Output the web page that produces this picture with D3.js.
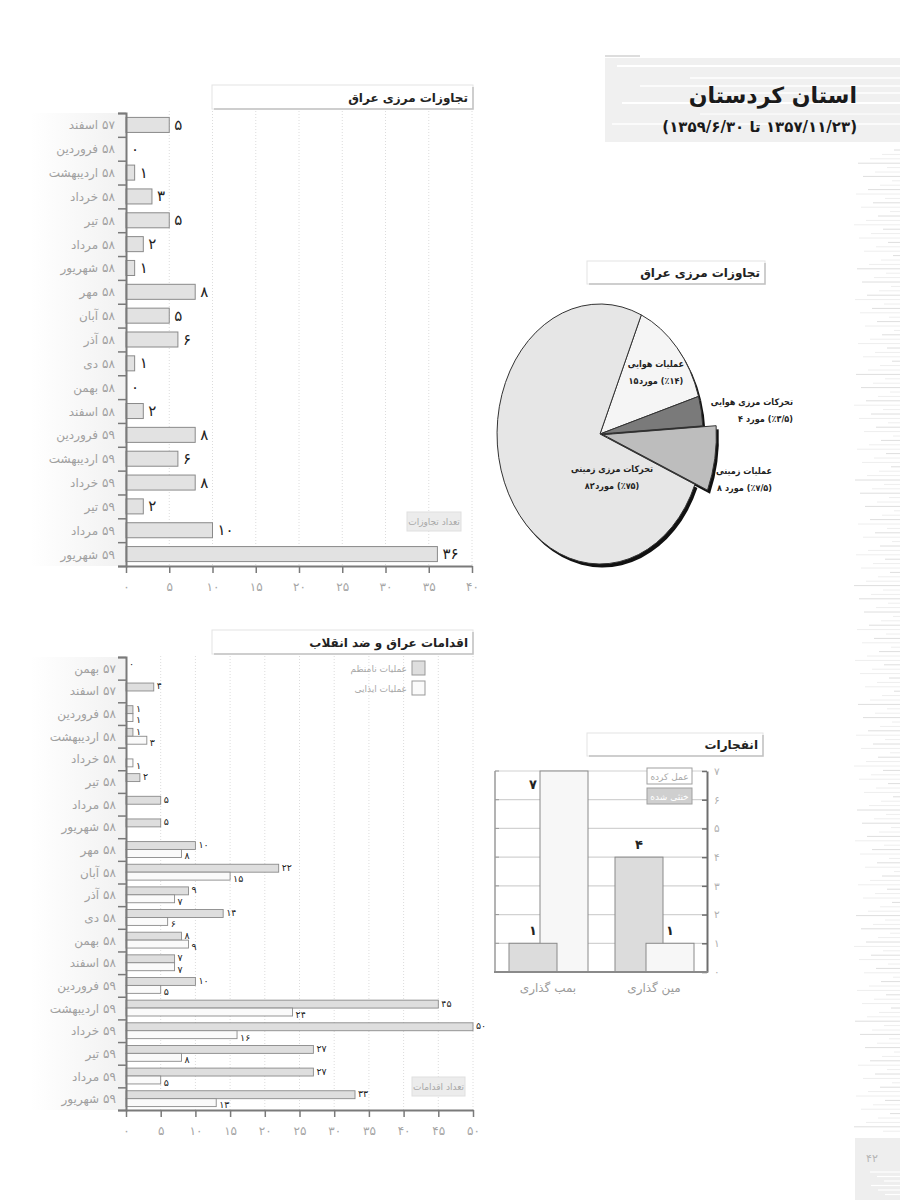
<!DOCTYPE html>
<html>
<head>
<meta charset="utf-8">
<script src="https://cdn.jsdelivr.net/npm/d3@7"></script>
<style>
  body { margin: 0; background: #fff; }
  svg { font-family: "DejaVu Sans", sans-serif; display: block; }
</style>
</head>
<body>
<div id="chart"></div>
<script>
// ---- datos ----
const monthsBorder = ["اسفند ۵۷", "فروردین ۵۸", "اردیبهشت ۵۸", "خرداد ۵۸", "تیر ۵۸", "مرداد ۵۸", "شهریور ۵۸",
  "مهر ۵۸", "آبان ۵۸", "آذر ۵۸", "دی ۵۸", "بهمن ۵۸", "اسفند ۵۸", "فروردین ۵۹", "اردیبهشت ۵۹",
  "خرداد ۵۹", "تیر ۵۹", "مرداد ۵۹", "شهریور ۵۹"]
const borderCounts = [5, 0, 1, 3, 5, 2, 1, 8, 5, 6, 1, 0, 2, 8, 6, 8, 2, 10, 36]

const monthsActions = ["بهمن ۵۷", "اسفند ۵۷", "فروردین ۵۸", "اردیبهشت ۵۸", "خرداد ۵۸", "تیر ۵۸", "مرداد ۵۸",
  "شهریور ۵۸", "مهر ۵۸", "آبان ۵۸", "آذر ۵۸", "دی ۵۸", "بهمن ۵۸", "اسفند ۵۸", "فروردین ۵۹",
  "اردیبهشت ۵۹", "خرداد ۵۹", "تیر ۵۹", "مرداد ۵۹", "شهریور ۵۹"]
const actionSeries = ["عملیات نامنظم", "عملیات ایذایی"]
const irregularOps = [0, 4, 1, 1, null, 2, 5, 5, 10, 22, 9, 14, 8, 7, 10, 45, 50, 27, 27, 33]
const harassOps = [null, null, 1, 3, 1, null, null, null, 8, 15, 7, 6, 9, 7, 5, 24, 16, 8, 5, 13]

const pieNames = ["عملیات هوایی", "تحرکات مرزی هوایی", "عملیات زمینی", "تحرکات مرزی زمینی"]
const pieValues = [15, 4, 8, 82]
const piePercents = ["۱۴", "۳/۵", "۷/۵", "۷۵"]

const blastTypes = ["بمب گذاری", "مین گذاری"]
const blastSeries = ["خنثی شده", "عمل کرده"]
const blastDefused = [1, 4]
const blastExploded = [7, 1]

// ---- utilidades ----
const RLM = "\u200F"
const fa = n => String(n).replace(/\d/g, d => "۰۱۲۳۴۵۶۷۸۹"[+d])

const width = 900
const height = 1200

const svg = d3.select("#chart")
  .append("svg")
  .attr("width", width)
  .attr("height", height)

// Coloca trozos de texto de izquierda a derecha, cada uno en su propio <text>,
// para que el bidi no los reordene (el original los muestra en este orden)
function inlineRow(g, x, y, parts, anchor, style) {
  const nodes = parts.map(p => {
    const t = g.append("text").attr("y", y).attr("text-anchor", "middle").text(p.t)
    style(t)
    return { t, w: t.node().getComputedTextLength(), gap: p.gap || 0 }
  })
  const total = d3.sum(nodes, n => n.w + n.gap)
  let cx = anchor === "end" ? x - total : anchor === "middle" ? x - total / 2 : x
  nodes.forEach(n => { n.t.attr("x", cx + n.w / 2); cx += n.w + n.gap })
}
const monthParts = s => { const [name, yr] = s.split(" "); return [{ t: name, gap: 4 }, { t: yr }] }

const defs = svg.append("defs")
const grad = defs.append("linearGradient").attr("id", "labelShade")
grad.append("stop").attr("offset", "0%").attr("stop-color", "#fff")
grad.append("stop").attr("offset", "100%").attr("stop-color", "#e8e8e8")

// ---- decoración de la página ----
const deco = svg.append("g")
deco.append("rect").attr("x", 605).attr("y", 58).attr("width", 295).attr("height", 84).attr("fill", "#f0f0f0")
const headStripes = [[617, 66, 2], [690, 78, 1.5], [640, 86, 1.5], [720, 93, 1.5], [622, 103, 2], [700, 114, 1], [612, 124, 1.5]]
headStripes.forEach(([x0, y0, w]) => {
  deco.append("line").attr("x1", x0).attr("x2", width).attr("y1", y0).attr("y2", y0)
    .attr("stroke", "#fff").attr("stroke-width", w)
})
deco.append("line").attr("x1", 605).attr("x2", 640).attr("y1", 56).attr("y2", 56).attr("stroke", "#ddd").attr("stroke-width", 2)

// franjas finas del margen derecho
for (let i = 0; i < 225; i++) {
  const yy = 150 + i * 4.4
  if (yy > 1135) break
  const len = 6 + ((i * 53) % 41)
  deco.append("line").attr("x1", width - len).attr("x2", width).attr("y1", yy).attr("y2", yy)
    .attr("stroke", (i % 3 === 0) ? "#dedede" : "#eeeeee").attr("stroke-width", 1)
}
deco.append("rect").attr("x", 855).attr("y", 1138).attr("width", 45).attr("height", 62).attr("fill", "#eeeeee")
for (let i = 0; i < 6; i++) {
  deco.append("line").attr("x1", 870 + (i * 7) % 20).attr("x2", width).attr("y1", 1172 + i * 4.5).attr("y2", 1172 + i * 4.5)
    .attr("stroke", "#fff").attr("stroke-width", 1.2)
}
deco.append("text").attr("x", 872).attr("y", 1162).attr("text-anchor", "middle")
  .attr("font-size", 11).attr("fill", "#b5b5b5").text(fa(42))

// título
svg.append("text").attr("x", 857).attr("y", 103).attr("text-anchor", "end")
  .attr("font-size", 22).attr("font-weight", "bold").attr("fill", "#1a1a1a").text("استان کردستان")
svg.append("text").attr("x", 857).attr("y", 132).attr("text-anchor", "end")
  .attr("font-size", 15).attr("font-weight", "bold").attr("fill", "#1a1a1a")
  .text(RLM + "(" + fa("1357/11/23") + " تا " + fa("1359/6/30") + ")" + RLM)

// caja de título de cada gráfico
function titleBox(x0, x1, y0, y1, text) {
  const g = svg.append("g")
  g.append("rect").attr("x", x0).attr("y", y0).attr("width", x1 - x0).attr("height", y1 - y0)
    .attr("fill", "#fff").attr("stroke", "#e4e4e4")
  g.append("path").attr("d", `M${x1},${y0 + 2}V${y1}H${x0 + 2}`)
    .attr("fill", "none").attr("stroke", "#c2c2c2").attr("stroke-width", 1.5)
  g.append("text").attr("x", x1 - 5).attr("y", (y0 + y1) / 2 + 4.5).attr("text-anchor", "end")
    .attr("font-size", 12).attr("font-weight", "bold").attr("fill", "#222").text(text)
}

function styleAxis(g, col) {
  g.select(".domain").attr("stroke", col).attr("stroke-width", 2)
  g.selectAll(".tick line").attr("stroke", col).attr("stroke-width", 1.5)
  g.selectAll(".tick text").attr("fill", "#a5a5a5").attr("font-size", 12).attr("font-family", "DejaVu Sans")
}
const monthStyle = t => t.attr("font-size", 12).attr("fill", "#a0a0a0")

// ---- gráfico 1: تجاوزات مرزی عراق ----
const x1 = d3.scaleLinear().domain([0, 40]).range([126, 472])
const rows1 = d3.scaleBand().domain(monthsBorder).range([113, 566])
const bars1 = rows1.copy().paddingInner(0.37).paddingOuter(0.185)

titleBox(212, 473, 85, 109, "تجاوزات مرزی عراق")

const g1 = svg.append("g")
g1.append("rect").attr("x", 30).attr("y", 113).attr("width", 96).attr("height", 453).attr("fill", "url(#labelShade)").attr("opacity", 0.6)
g1.selectAll(".grid").data(x1.ticks(8).slice(1)).join("line")
  .attr("x1", d => x1(d)).attr("x2", d => x1(d)).attr("y1", 111).attr("y2", 566)
  .attr("stroke", "#dcdcdc").attr("stroke-dasharray", "1,2")

g1.selectAll(".bar").data(monthsBorder.map((m, i) => ({ m, v: borderCounts[i] })).filter(d => d.v > 0)).join("rect")
  .attr("x", x1(0)).attr("y", d => bars1(d.m))
  .attr("width", d => x1(d.v) - x1(0)).attr("height", bars1.bandwidth())
  .attr("fill", "#e2e2e2").attr("stroke", "#8a8a8a").attr("stroke-width", 1)

g1.selectAll(".val").data(monthsBorder.map((m, i) => ({ m, v: borderCounts[i] }))).join("text")
  .attr("x", d => x1(d.v) + 5).attr("y", d => rows1(d.m) + rows1.bandwidth() / 2 + 5)
  .attr("font-size", 15).attr("fill", "#222").text(d => fa(d.v))

const labs1 = g1.append("g")
monthsBorder.forEach(m => inlineRow(labs1, 115, rows1(m) + rows1.bandwidth() / 2 + 4.5, monthParts(m), "end", monthStyle))

const yTicks1 = d3.scaleLinear().domain([0, monthsBorder.length]).range([113, 566])
const yAx1 = g1.append("g").attr("transform", "translate(126,0)")
  .call(d3.axisLeft(yTicks1).ticks(monthsBorder.length).tickSize(8).tickFormat(""))
styleAxis(yAx1, "#7a7a7a")
const xAx1 = g1.append("g").attr("transform", "translate(0,566)")
  .call(d3.axisBottom(x1).ticks(8).tickSize(7).tickSizeOuter(0).tickPadding(9).tickFormat(fa))
styleAxis(xAx1, "#7a7a7a")

g1.append("rect").attr("x", 407).attr("y", 512).attr("width", 54).attr("height", 19).attr("fill", "#ececec").attr("stroke", "#e0e0e0")
g1.append("text").attr("x", 434).attr("y", 525).attr("text-anchor", "middle").attr("font-size", 9).attr("fill", "#a8a8a8").text("تعداد تجاوزات")

// ---- gráfico 2: اقدامات عراق و ضد انقلاب ----
const x2 = d3.scaleLinear().domain([0, 50]).range([126, 473])
const rows2 = d3.scaleBand().domain(monthsActions).range([657, 1110])
const grp2 = rows2.copy().paddingInner(0.3).paddingOuter(0.15)
const sub2 = d3.scaleBand().domain(actionSeries).range([0, grp2.bandwidth()])
const fill2 = d3.scaleOrdinal().domain(actionSeries).range(["#dedede", "#fafafa"])

titleBox(212, 473, 630, 654, "اقدامات عراق و ضد انقلاب")

const g2 = svg.append("g")
g2.append("rect").attr("x", 30).attr("y", 657).attr("width", 96).attr("height", 453).attr("fill", "url(#labelShade)").attr("opacity", 0.6)
g2.selectAll(".grid").data(x2.ticks(10).slice(1)).join("line")
  .attr("x1", d => x2(d)).attr("x2", d => x2(d)).attr("y1", 656).attr("y2", 1110)
  .attr("stroke", "#dcdcdc").attr("stroke-dasharray", "1,2")

const actionData = []
monthsActions.forEach((m, i) => {
  actionData.push({ m, s: actionSeries[0], v: irregularOps[i] })
  actionData.push({ m, s: actionSeries[1], v: harassOps[i] })
})
const shown2 = actionData.filter(d => d.v !== null)

g2.selectAll(".bar").data(shown2.filter(d => d.v > 0)).join("rect")
  .attr("x", x2(0)).attr("y", d => grp2(d.m) + sub2(d.s))
  .attr("width", d => x2(d.v) - x2(0)).attr("height", sub2.bandwidth())
  .attr("fill", d => fill2(d.s)).attr("stroke", "#8a8a8a").attr("stroke-width", 0.9)

// etiquetas: la gris encima del centro de la fila, la blanca debajo
g2.selectAll(".val").data(shown2).join("text")
  .attr("x", d => x2(d.v) + 3)
  .attr("y", d => rows2(d.m) + rows2.bandwidth() / 2 + (d.s === actionSeries[0] ? -1.5 : 9.8))
  .attr("font-size", 9.5).attr("fill", "#222").text(d => fa(d.v))

const labs2 = g2.append("g")
monthsActions.forEach(m => inlineRow(labs2, 116, rows2(m) + rows2.bandwidth() / 2 + 4.5, monthParts(m), "end", monthStyle))

const yTicks2 = d3.scaleLinear().domain([0, monthsActions.length]).range([657, 1110])
const yAx2 = g2.append("g").attr("transform", "translate(126,0)")
  .call(d3.axisLeft(yTicks2).ticks(monthsActions.length).tickSize(8).tickFormat(""))
styleAxis(yAx2, "#7a7a7a")
const xAx2 = g2.append("g").attr("transform", "translate(0,1110)")
  .call(d3.axisBottom(x2).ticks(10).tickSize(7).tickSizeOuter(0).tickPadding(9).tickFormat(fa))
styleAxis(xAx2, "#7a7a7a")

// leyenda
actionSeries.forEach((s, i) => {
  g2.append("rect").attr("x", 412).attr("y", 661 + i * 20).attr("width", 13).attr("height", 14)
    .attr("fill", fill2(s)).attr("stroke", "#999")
  g2.append("text").attr("x", 407).attr("y", 672 + i * 20).attr("text-anchor", "end")
    .attr("font-size", 9).attr("fill", "#a8a8a8").text(s)
})
g2.append("rect").attr("x", 412).attr("y", 1077).attr("width", 53).attr("height", 19).attr("fill", "#ececec").attr("stroke", "#e0e0e0")
g2.append("text").attr("x", 438.5).attr("y", 1090).attr("text-anchor", "middle").attr("font-size", 9).attr("fill", "#a8a8a8").text("تعداد اقدامات")

// ---- pastel: تجاوزات مرزی عراق ----
titleBox(587, 765, 261, 284, "تجاوزات مرزی عراق")

const pieCx = 600, pieCy = 434, pieR = 130, squash = 0.792
const total = d3.sum(pieValues)
// las porciones pequeñas quedan a la derecha, como en el original
const startA = Math.PI * 0.48 - (pieValues[0] + pieValues[1]) / total * 2 * Math.PI
const pie = d3.pie().sort(null).startAngle(startA).endAngle(startA + 2 * Math.PI)
const slices = pie(pieValues)
const pieFill = ["#f5f5f5", "#7a7a7a", "#bdbdbd", "#e6e6e6"]
const arc = d3.arc().innerRadius(0).outerRadius(pieR)
const arcOut = d3.arc().innerRadius(0).outerRadius(pieR * 1.1)
const explode = 2
const explOff = d => {
  const a = (d.startAngle + d.endAngle) / 2
  return [Math.sin(a) * 4, -Math.cos(a) * 4]
}
const slicePath = (d, i) => i === explode ? arcOut(d) : arc(d)
const sliceShift = (d, i) => i === explode ? `translate(${explOff(d)[0]},${explOff(d)[1]})` : null

const shadow = svg.append("g").attr("transform", `translate(${pieCx + 2.5},${pieCy + 3.5}) scale(${squash},1)`)
shadow.selectAll("path").data(slices).join("path")
  .attr("d", slicePath).attr("transform", sliceShift).attr("fill", "#111")
const pieG = svg.append("g").attr("transform", `translate(${pieCx},${pieCy}) scale(${squash},1)`)
pieG.selectAll("path").data(slices).join("path")
  .attr("d", slicePath).attr("transform", sliceShift)
  .attr("fill", (d, i) => pieFill[i]).attr("stroke", "#333").attr("stroke-width", 1)
  .attr("vector-effect", "non-scaling-stroke")

// etiquetas del pastel
const cAir = d3.arc().innerRadius(0).outerRadius(pieR * 1.45).centroid(slices[0])
const pieLab = [
  { x: pieCx + cAir[0] * squash, y: pieCy + cAir[1] - 4, a: "middle" },
  { x: 793, y: 405, a: "end" },
  { x: 772, y: 474, a: "end" },
  { x: 612, y: 472, a: "middle" }
]
const pieStyle = t => t.attr("font-family", "DejaVu Sans Condensed, DejaVu Sans")
  .attr("font-size", 9).attr("font-weight", "bold").attr("fill", "#222")
const pieLabG = svg.append("g")
pieNames.forEach((n, i) => {
  const p = pieLab[i]
  const sep = (i === 0 || i === 3) ? 0.5 : 3
  pieStyle(pieLabG.append("text").attr("x", p.x).attr("y", p.y).attr("text-anchor", p.a).text(n))
  inlineRow(pieLabG, p.x, p.y + 17, [
    { t: fa(pieValues[i]), gap: sep },
    { t: "مورد", gap: 3 },
    { t: "(٪" + piePercents[i] + ")" }
  ], p.a, pieStyle)
})

// ---- gráfico 4: انفجارات ----
titleBox(587, 763, 733, 756, "انفجارات")

const yB = d3.scaleLinear().domain([0, 7]).range([972, 771])
const xB = d3.scaleBand().domain(blastTypes).range([495, 707])
const xSub = d3.scalePoint().domain(blastSeries).range([-39, -8])
const barW = 48
const fillB = d3.scaleOrdinal().domain(blastSeries).range(["#dcdcdc", "#f7f7f7"])

const g4 = svg.append("g")
g4.selectAll(".grid").data(yB.ticks(7).slice(1)).join("line")
  .attr("x1", 495).attr("x2", 707).attr("y1", d => yB(d)).attr("y2", d => yB(d))
  .attr("stroke", "#d2d2d2").attr("stroke-width", 1.2)
g4.append("line").attr("x1", 495).attr("x2", 495).attr("y1", 771).attr("y2", 972).attr("stroke", "#9a9a9a").attr("stroke-width", 1.5)
g4.selectAll(".lt").data(yB.ticks(7)).join("line")
  .attr("x1", 495).attr("x2", 499).attr("y1", d => yB(d)).attr("y2", d => yB(d)).attr("stroke", "#9a9a9a")

const blastData = blastTypes.map((t, i) => [
  { t, s: blastSeries[0], v: blastDefused[i] },
  { t, s: blastSeries[1], v: blastExploded[i] }
].sort((a, b) => b.v - a.v)).flat()

g4.selectAll(".bar").data(blastData).join("rect")
  .attr("x", d => xB(d.t) + xB.bandwidth() / 2 + xSub(d.s)).attr("y", d => yB(d.v))
  .attr("width", barW).attr("height", d => yB(0) - yB(d.v))
  .attr("fill", d => fillB(d.s)).attr("stroke", "#8a8a8a").attr("stroke-width", 1)

g4.selectAll(".val").data(blastData).join("text")
  .attr("x", d => {
    const bx = xB(d.t) + xB.bandwidth() / 2 + xSub(d.s)
    return d.v === yB.domain()[1] ? bx - 7 : bx + barW / 2
  })
  .attr("y", d => d.v === yB.domain()[1] ? yB(d.v) + 18 : yB(d.v) - 8)
  .attr("text-anchor", "middle").attr("font-size", 13).attr("font-weight", "bold").attr("fill", "#222")
  .text(d => fa(d.v))

const yAxB = g4.append("g").attr("transform", "translate(707,0)")
  .call(d3.axisRight(yB).ticks(7).tickSizeInner(-5).tickSizeOuter(0).tickPadding(7).tickFormat(fa))
styleAxis(yAxB, "#6e6e6e")
yAxB.selectAll(".tick text").attr("fill", "#b0b0b0").attr("font-size", 10.5)
g4.append("line").attr("x1", 494).attr("x2", 708).attr("y1", 972).attr("y2", 972).attr("stroke", "#8a8a8a").attr("stroke-width", 1.8)

g4.selectAll(".cat").data(blastTypes).join("text")
  .attr("x", d => xB(d) + xB.bandwidth() / 2).attr("y", 992).attr("text-anchor", "middle")
  .attr("font-size", 12).attr("fill", "#9a9a9a").text(d => d)

// leyenda
const legB = [blastSeries[1], blastSeries[0]]
legB.forEach((s, i) => {
  g4.append("rect").attr("x", 647).attr("y", 768 + i * 20).attr("width", 45).attr("height", 16)
    .attr("fill", s === blastSeries[0] ? "#cfcfcf" : "#fff").attr("stroke", "#a0a0a0")
  g4.append("text").attr("x", 669.5).attr("y", 780 + i * 20).attr("text-anchor", "middle")
    .attr("font-size", 9).attr("fill", s === blastSeries[0] ? "#fff" : "#a8a8a8").text(s)
})
</script>
</body>
</html>
